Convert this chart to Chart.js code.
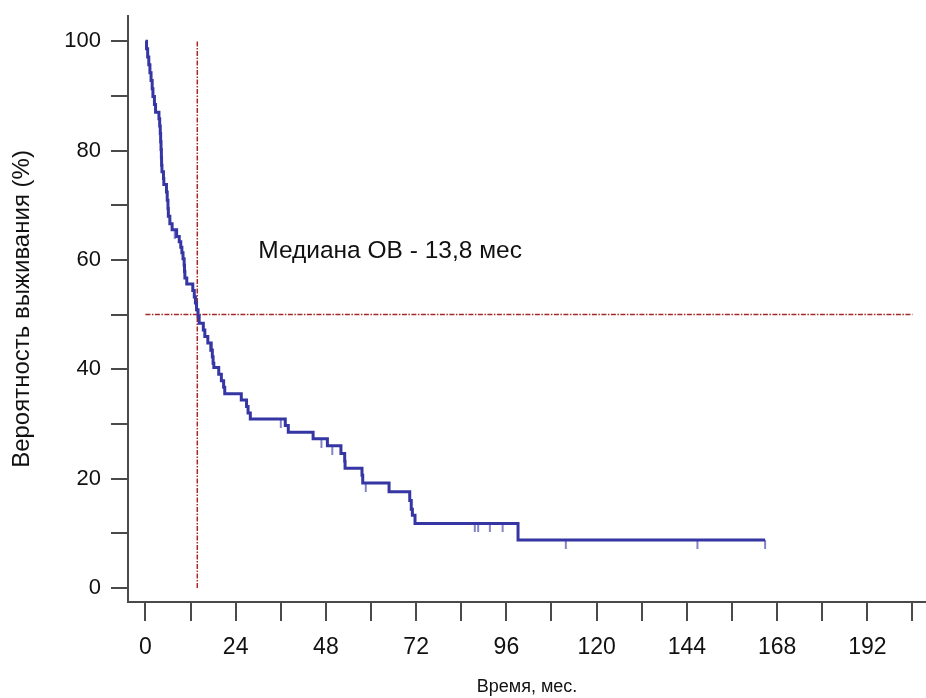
<!DOCTYPE html>
<html>
<head>
<meta charset="utf-8">
<script src="https://cdn.jsdelivr.net/npm/chart.js@4.4.1/dist/chart.umd.min.js"></script>
<style>
html,body{margin:0;padding:0;background:#ffffff;overflow:hidden;}
#wrap{width:926px;height:698px;position:relative;}
</style>
</head>
<body>
<div id="wrap"><canvas id="c" width="926" height="698"></canvas></div>
<script>
// ---- DATA ----
const kmTimes = [0,0.3,0.6,0.9,1.2,1.5,1.8,2.0,2.4,2.7,3.6,3.8,3.95,4.05,4.15,4.25,4.3,4.4,4.8,4.9,5.6,5.8,6.0,6.1,6.5,7.1,8.3,9.0,9.4,9.7,10.0,10.3,10.4,10.5,11.0,12.6,13.0,13.3,13.6,14.0,14.3,15.4,15.8,16.6,17.5,17.8,18.0,18.2,19.5,20.2,20.8,21.1,25.5,26.9,27.3,27.9,37.2,38.0,44.6,48.4,52.0,53.0,53.1,57.6,57.8,64.8,70.3,70.7,71.0,71.7,99.1,164.8];
const kmSurvival = [100,98.6,97.1,95.7,94.2,92.8,91.3,89.9,88.4,87.0,85.8,84.5,83.1,81.6,80.2,78.7,77.3,76.1,74.9,73.8,72.4,70.9,69.4,68.0,66.6,65.5,64.3,63.3,62.3,61.3,60.2,59.0,57.9,56.7,55.6,54.4,53.2,52.1,50.9,49.7,48.4,47.2,46.0,44.8,43.5,42.3,41.1,40.3,39.1,37.9,36.7,35.5,34.4,33.2,32.0,30.9,29.7,28.5,27.3,26.0,24.6,23.2,21.9,20.6,19.2,17.6,16.0,14.4,13.3,11.8,8.8,8.8];
const censorTimes = [7.8,17.2,36.0,46.8,49.7,58.6,87.6,88.5,91.6,95.0,111.8,146.8,164.8];
const censorSurvival = [65.5,44.8,30.9,27.3,26.0,19.2,11.8,11.8,11.8,11.8,8.8,8.8,8.8];
const medianTime = 13.8;
const medianSurvival = 50;
const xTickValues = [0,12,24,36,48,60,72,84,96,108,120,132,144,156,168,180,192,204];
const xLabelValues = [0,24,48,72,96,120,144,168,192];
const yTickValues = [0,10,20,30,40,50,60,70,80,90,100];
const yLabelValues = [0,20,40,60,80,100];
const annotationText = 'Медиана ОВ - 13,8 мес';
const xTitleText = 'Время, мес.';
const yTitleText = 'Вероятность выживания (%)';

// ---- STYLE ----
const FONT = '"Liberation Sans", Arial, Helvetica, sans-serif';
const AXIS_COLOR = '#4a4a4a';
const CURVE_COLOR = '#3535a4';
const CENSOR_COLOR = '#5a5ab8';
const MEDIAN_COLOR = '#a82828';
const annotationPos = {x: 30, y: 61.5};

function makeCensorMark() {
  const c = document.createElement('canvas');
  c.width = 4; c.height = 18;
  const g = c.getContext('2d');
  g.strokeStyle = CENSOR_COLOR;
  g.lineWidth = 1.5;
  g.beginPath(); g.moveTo(2, 9); g.lineTo(2, 18); g.stroke();
  return c;
}

function zeroPadding(s) {
  s.paddingTop = 0; s.paddingBottom = 0; s.paddingLeft = 0; s.paddingRight = 0;
}

const kmPoints = kmTimes.map((t, i) => ({x: t, y: kmSurvival[i]}));
const censorPoints = censorTimes.map((t, i) => ({x: t, y: censorSurvival[i]}));

const textPlugin = {
  id: 'medianText',
  afterDatasetsDraw(chart) {
    const {ctx, scales} = chart;
    ctx.save();
    ctx.font = '24.5px ' + FONT;
    ctx.fillStyle = '#111111';
    ctx.textAlign = 'left';
    ctx.textBaseline = 'middle';
    ctx.fillText(annotationText, scales.x.getPixelForValue(annotationPos.x), scales.y.getPixelForValue(annotationPos.y));
    ctx.restore();
  }
};

new Chart(document.getElementById('c'), {
  type: 'line',
  data: {
    datasets: [
      {
        label: 'KM',
        data: kmPoints,
        stepped: 'before',
        borderColor: CURVE_COLOR,
        borderWidth: 3,
        pointRadius: 0,
        pointHoverRadius: 0,
        fill: false,
        order: 0
      },
      {
        label: 'censor',
        data: censorPoints,
        showLine: false,
        pointStyle: makeCensorMark(),
        pointRadius: 5,
        pointHoverRadius: 5,
        order: 1
      },
      {
        label: 'medianH',
        data: [{x: 0, y: medianSurvival}, {x: 204, y: medianSurvival}],
        borderColor: MEDIAN_COLOR,
        borderWidth: 1.5,
        borderDash: [5, 1.5, 1.5, 1.5],
        pointRadius: 0,
        pointHoverRadius: 0,
        order: 2
      },
      {
        label: 'medianV',
        data: [{x: medianTime, y: 0}, {x: medianTime, y: 100}],
        borderColor: MEDIAN_COLOR,
        borderWidth: 1.5,
        borderDash: [5, 1.5, 1.5, 1.5],
        pointRadius: 0,
        pointHoverRadius: 0,
        order: 2
      }
    ]
  },
  options: {
    responsive: false,
    animation: false,
    devicePixelRatio: 1,
    events: [],
    layout: {autoPadding: false, padding: {top: 16, left: 0, right: 0, bottom: 0}},
    plugins: {legend: {display: false}, tooltip: {enabled: false}},
    scales: {
      x: {
        type: 'linear',
        min: -4.63,
        max: 207.6,
        afterBuildTicks: s => { s.ticks = xTickValues.map(v => ({value: v})); },
        afterFit: s => { s.height = 96; zeroPadding(s); },
        grid: {display: true, drawOnChartArea: false, drawTicks: true, tickLength: 19, color: AXIS_COLOR, lineWidth: 2},
        border: {display: true, color: AXIS_COLOR, width: 2},
        ticks: {
          autoSkip: false, maxRotation: 0, padding: 13, color: '#111111',
          font: {size: 23, family: FONT},
          callback: v => xLabelValues.includes(v) ? String(v) : ''
        },
        title: {display: true, text: xTitleText, color: '#111111', font: {size: 18, family: FONT}, padding: {top: 0, bottom: 0}}
      },
      y: {
        type: 'linear',
        min: -2.56,
        max: 104.6,
        afterBuildTicks: s => { s.ticks = yTickValues.map(v => ({value: v})); },
        afterFit: s => { s.width = 128; zeroPadding(s); },
        grid: {display: true, drawOnChartArea: false, drawTicks: true, tickLength: 17, color: AXIS_COLOR, lineWidth: 2},
        border: {display: true, color: AXIS_COLOR, width: 2},
        ticks: {
          autoSkip: false, padding: 10, color: '#111111',
          font: {size: 22, family: FONT},
          callback: v => yLabelValues.includes(v) ? String(v) : ''
        },
        title: {display: true, text: yTitleText, color: '#111111', font: {size: 24, family: FONT}, padding: {top: 8, bottom: 0}}
      }
    }
  },
  plugins: [textPlugin]
});
</script>
</body>
</html>
